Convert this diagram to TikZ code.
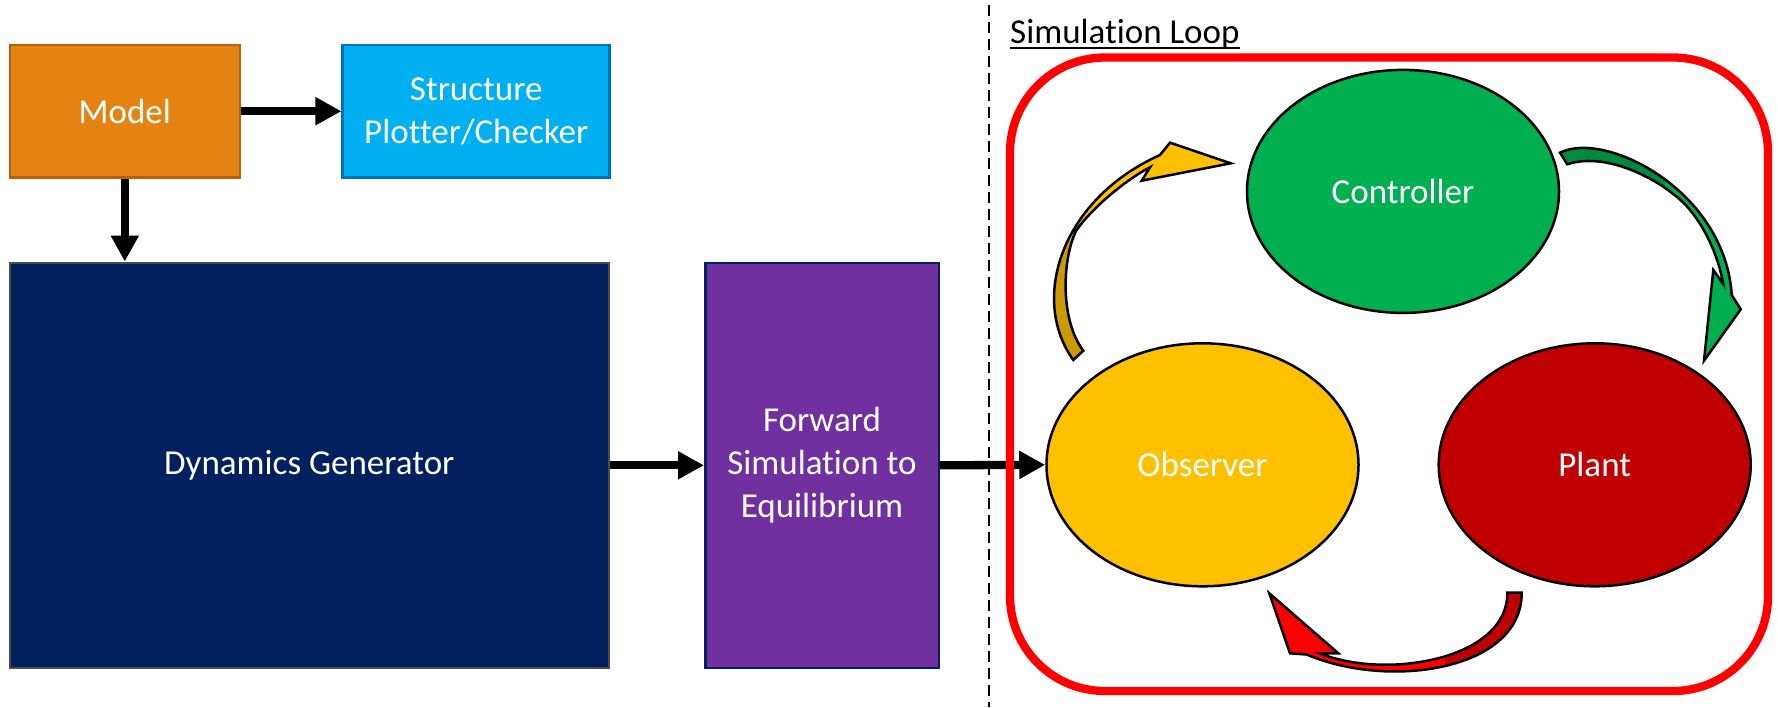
\documentclass[tikz,border=0pt]{standalone}
\usepackage{fontspec}
\setmainfont{Carlito}[Ligatures=NoCommon]
\usetikzlibrary{arrows.meta,shapes.geometric}
\definecolor{orangeF}{HTML}{E48312}
\definecolor{orangeD}{HTML}{B4600C}
\definecolor{cyanF}{HTML}{00B0F0}
\definecolor{cyanD}{HTML}{0070C0}
\definecolor{navyF}{HTML}{002060}
\definecolor{navyD}{HTML}{4B4E46}
\definecolor{purpleF}{HTML}{7030A0}
\definecolor{purpleD}{HTML}{002060}
\definecolor{greenF}{HTML}{00B050}
\definecolor{greenD}{HTML}{008A3E}
\definecolor{yellowF}{HTML}{FFC000}
\definecolor{yellowD}{HTML}{CC9A00}
\definecolor{plantF}{HTML}{C00000}
\definecolor{redL}{HTML}{FF0000}
\tikzset{
  box/.style={rectangle, line width=2.5pt, text=white, align=center, inner sep=0pt,
    font=\fontsize{35}{43}\selectfont},
  ell/.style={ellipse, draw=black, line width=2.5pt, text=white, inner sep=0pt,
    font=\fontsize{35}{43}\selectfont},
  conn/.style={line width=8.3pt, -{Triangle[length=26pt,width=26.5pt]}},
  sep/.style={line width=2pt, dash pattern=on 11pt off 6pt},
  loopbox/.style={draw=redL, line width=8.3pt, rounded corners=95pt},
  outline/.style={draw=black, line width=2.5pt, line join=miter},
}
% yellow: Observer -> Controller
\def\yarrow{(1230.7,163.3) -- (1141.7,180.7) -- (1150,167.3)
  .. controls (1125,180) and (1090,210) .. (1076,231)
  .. controls (1062,260) and (1060,320) .. (1083.3,350.7)
  -- (1073.3,360)
  .. controls (1030,300) and (1060,200) .. (1160,155)
  -- (1170,142.7) -- cycle}
% green: Controller -> Plant
\def\garrow{(1704,360.7) -- (1713.3,270) -- (1723.3,284)
  .. controls (1718,255) and (1705,228) .. (1690,210)
  .. controls (1670,185) and (1610,150) .. (1567.3,164.3)
  -- (1560,152.7)
  .. controls (1605,130) and (1725,190) .. (1731.7,295)
  -- (1740.7,309.3) -- cycle}
% red: Plant -> Observer
\def\rarrow{(1269.3,593.3) -- (1338.3,653.3) -- (1320,653.3)
  .. controls (1385,680) and (1508,660) .. (1507.3,592.7)
  -- (1521.7,592.7)
  .. controls (1522,670) and (1390,690) .. (1306.7,654.5)
  -- (1290,653.3) -- cycle}
\begin{document}
\begin{tikzpicture}[x=1pt,y=-1pt]
\useasboundingbox[fill=white] (0,0) rectangle (1778,707);

% left blocks
\node[box, fill=orangeF, draw=orangeD, minimum width=230pt, minimum height=132.5pt] (model) at (124.8,111.2) {Model};
\node[box, fill=cyanF, draw=cyanD, minimum width=267pt, minimum height=132.5pt] (struct) at (476.2,111.2) {Structure\\Plotter/Checker};
\node[box, fill=navyF, draw=navyD, minimum width=599pt, minimum height=405pt] (dyn) at (309.3,465.3) {Dynamics Generator};
\node[box, fill=purpleF, draw=purpleD, minimum width=233.5pt, minimum height=405pt] (fwd) at (822,465.3) {Forward\\Simulation to\\Equilibrium};

% loop ellipses
\node[ell, fill=greenF, minimum width=312pt, minimum height=243pt] (ctrl) at (1403,191.4) {Controller};
\node[ell, fill=yellowF, minimum width=312pt, minimum height=243pt] (obs) at (1202.5,464.8) {Observer};
\node[ell, fill=plantF, minimum width=312pt, minimum height=243pt] (plant) at (1594.7,464.8) {Plant};

% straight connectors
\draw[conn] (model.east) -- (struct.west);
\draw[conn] (model.south) -- (model.south |- dyn.north);
\draw[conn] (dyn.east) -- (fwd.west);
\draw[conn] (fwd.east) -- (obs.west);

% separator
\coordinate (dtop) at (989.3,5);
\coordinate (dbot) at (989.3,707);
\draw[sep] (dtop) -- (dbot);

% loop frame and title
\node[loopbox, minimum width=758pt, minimum height=633.5pt] (loop) at (1389,374.25) {};
\node[anchor=base west, inner xsep=0pt, font=\fontsize{35}{43}\selectfont] (title) at (1010,43.7) {Simulation Loop};
\draw[line width=2pt] ([yshift=-4.6pt]title.base west) -- ([yshift=-4.6pt]title.base east);

% curved block arrows
\fill[yellowF] \yarrow;
\begin{scope}
  \clip (1040,240) rectangle (1100,370);
  \fill[yellowD] \yarrow;
\end{scope}
\path[outline] \yarrow;

\fill[greenF] \garrow;
\begin{scope}
  \clip (1550,130) rectangle (1665,200);
  \fill[greenD] \garrow;
\end{scope}
\path[outline] \garrow;

\fill[redL] \rarrow;
\begin{scope}
  \clip (1445,585) rectangle (1530,680);
  \fill[plantF] \rarrow;
\end{scope}
\path[outline] \rarrow;
\end{tikzpicture}
\end{document}
